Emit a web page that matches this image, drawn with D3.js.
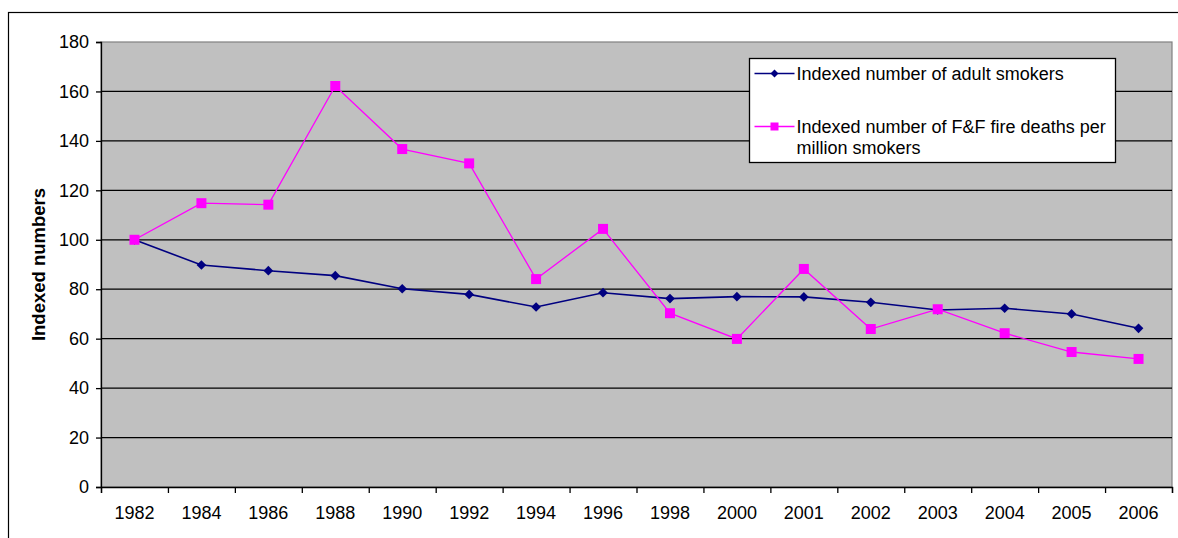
<!DOCTYPE html>
<html>
  <head>
    <title>Indexed numbers of adult smokers and F&amp;F fire deaths</title>
    <script src="https://d3js.org/d3.v7.min.js"></script>
    <style>
      body { margin: 0; background: #fff; }
      text { font-family: "Liberation Sans", Arial, sans-serif; }
      .tick text { font-size: 18px; fill: #000; }
      .axis-label { font-size: 18.5px; font-weight: bold; }
      .legend-text { font-size: 18px; }
    </style>
  </head>
  <body>
    <div id="chart"></div>
    <script>
      // Data
      const years = ["1982", "1984", "1986", "1988", "1990", "1992", "1994", "1996",
                     "1998", "2000", "2001", "2002", "2003", "2004", "2005", "2006"];
      const smokers = [100, 89.8, 87.5, 85.5, 80.2, 77.9, 72.8, 78.6,
                       76.2, 77.0, 76.9, 74.7, 71.6, 72.3, 70.0, 64.2];
      const fireDeaths = [100, 114.8, 114.2, 162.2, 136.7, 130.9, 84.1, 104.4,
                          70.3, 59.9, 88.2, 63.9, 71.9, 62.2, 54.6, 51.8];
      const yTicks = [0, 20, 40, 60, 80, 100, 120, 140, 160, 180];
      const seriesNames = ["Indexed number of adult smokers",
                           "Indexed number of F&F fire deaths per|million smokers"];

      const W = 1178, H = 538;
      const margin = { top: 42, right: 6, bottom: 51, left: 101 };
      const width = W - margin.left - margin.right;
      const height = H - margin.top - margin.bottom;

      const root = d3.select("#chart").append("svg")
        .attr("width", W).attr("height", H);

      // Outer frame (right and bottom edges fall outside the picture)
      root.append("rect")
        .attr("x", 8.5).attr("y", 12.5)
        .attr("width", W + 10).attr("height", H + 10)
        .attr("fill", "none").attr("stroke", "#000").attr("stroke-width", 1.2);

      const svg = root.append("g")
        .attr("transform", `translate(${margin.left}, ${margin.top})`);

      const x = d3.scaleBand().domain(years).range([0, width]).padding(0);
      const xEdge = d3.scaleLinear().domain([0, years.length]).range([0, width]);
      const y = d3.scaleLinear().domain([0, 180]).range([height, 0]);

      // Plot area
      svg.append("rect")
        .attr("width", width).attr("height", height)
        .attr("fill", "#c0c0c0").attr("stroke", "#808080").attr("stroke-width", 1.2);

      // Gridlines
      svg.append("g")
        .selectAll("line")
        .data(yTicks.filter(d => d > 0 && d < 180))
        .join("line")
        .attr("x1", 0).attr("x2", width)
        .attr("y1", d => y(d)).attr("y2", d => y(d))
        .attr("stroke", "#000").attr("stroke-width", 1.3);

      // Y axis
      const yAxis = svg.append("g")
        .call(d3.axisLeft(y).tickValues(yTicks).tickSize(5).tickPadding(7));
      yAxis.select(".domain").attr("stroke", "#000").attr("stroke-width", 1.3);
      yAxis.selectAll(".tick line").attr("stroke", "#000").attr("stroke-width", 1.3);
      yAxis.selectAll(".tick text").style("font-family", "Liberation Sans");

      // X axis: ticks sit on category boundaries, labels in the middle
      const xTicks = svg.append("g")
        .attr("transform", `translate(0, ${height})`)
        .call(d3.axisBottom(xEdge).tickValues(d3.range(years.length + 1)).tickSize(6).tickFormat(""));
      xTicks.select(".domain").attr("stroke", "#000").attr("stroke-width", 1.3);
      xTicks.selectAll(".tick line").attr("stroke", "#000").attr("stroke-width", 1.3);

      const xLabels = svg.append("g")
        .attr("transform", `translate(0, ${height})`)
        .call(d3.axisBottom(x).tickSize(0).tickPadding(19));
      xLabels.select(".domain").remove();
      xLabels.selectAll(".tick text").style("font-family", "Liberation Sans");

      const cx = (d, i) => x(years[i]) + x.bandwidth() / 2;

      const line = d3.line().x((d, i) => cx(d, i)).y(d => y(d));

      // Series 1: adult smokers (navy, diamonds)
      svg.append("path").datum(smokers)
        .attr("d", line).attr("fill", "none")
        .attr("stroke", "#000080").attr("stroke-width", 1.6);
      svg.append("g").selectAll("path")
        .data(smokers)
        .join("path")
        .attr("d", d3.symbol(d3.symbolDiamond2, 60)())
        .attr("transform", (d, i) => `translate(${cx(d, i)}, ${y(d)})`)
        .attr("fill", "#000080");

      // Series 2: fire deaths (magenta, squares)
      svg.append("path").datum(fireDeaths)
        .attr("d", line).attr("fill", "none")
        .attr("stroke", "#ff00ff").attr("stroke-width", 1.3);
      svg.append("g").selectAll("rect")
        .data(fireDeaths)
        .join("rect")
        .attr("x", (d, i) => cx(d, i) - 5).attr("y", d => y(d) - 5)
        .attr("width", 10).attr("height", 10)
        .attr("fill", "#ff00ff");

      // Y axis title
      root.append("text")
        .attr("class", "axis-label")
        .attr("transform", `translate(45, ${margin.top + height / 2}) rotate(-90)`)
        .attr("text-anchor", "middle")
        .text("Indexed numbers");

      // Legend
      const legend = root.append("g").attr("transform", "translate(749.5, 58.5)");
      legend.append("rect")
        .attr("width", 366).attr("height", 104)
        .attr("fill", "#fff").attr("stroke", "#000").attr("stroke-width", 1.3);

      const rows = [
        { y: 15, color: "#000080", width: 1.6, marker: "diamond" },
        { y: 68, color: "#ff00ff", width: 1.3, marker: "square" }
      ];
      rows.forEach((r, i) => {
        const g = legend.append("g").attr("transform", `translate(0, ${r.y})`);
        g.append("line").attr("x1", 5).attr("x2", 45)
          .attr("stroke", r.color).attr("stroke-width", r.width);
        if (r.marker === "diamond") {
          g.append("path").attr("d", d3.symbol(d3.symbolDiamond2, 40)())
            .attr("transform", "translate(25, 0)").attr("fill", r.color);
        } else {
          g.append("rect").attr("x", 21).attr("y", -4).attr("width", 8).attr("height", 8)
            .attr("fill", r.color);
        }
        const t = g.append("text").attr("class", "legend-text").attr("x", 47).attr("y", 6);
        seriesNames[i].split("|").forEach((s, k) => {
          t.append("tspan").attr("x", 47).attr("dy", k === 0 ? 0 : 21.5).text(s);
        });
      });
    </script>
  </body>
</html>
